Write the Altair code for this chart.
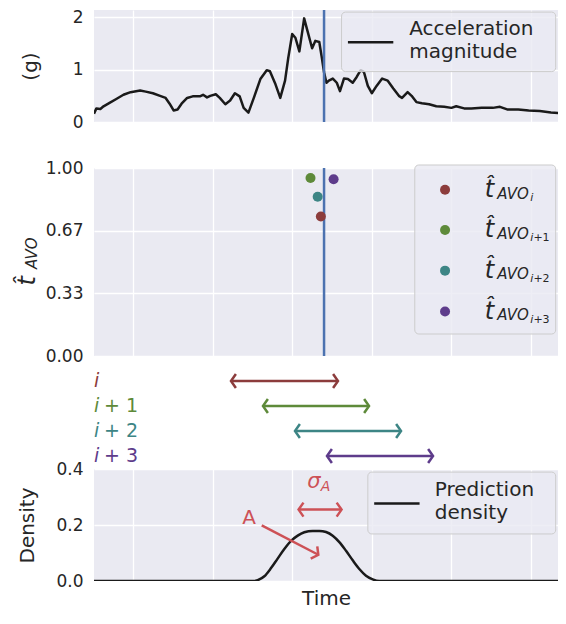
import altair as alt
import pandas as pd

# ---------------- data ----------------
grid_t = [1, 2, 3, 4, 5, 6]

acc_t = [0.51, 0.54, 0.59, 0.63, 0.70, 0.79, 0.88, 0.97, 1.09, 1.16,
         1.25, 1.34, 1.41, 1.46, 1.51, 1.56, 1.61, 1.68, 1.75, 1.84,
         1.88, 1.93, 1.97, 2.04, 2.09, 2.16, 2.22, 2.28, 2.34, 2.39,
         2.45, 2.52, 2.60, 2.68, 2.72, 2.79, 2.85, 2.91, 2.95, 3.00,
         3.04, 3.09, 3.15, 3.19, 3.25, 3.29, 3.34, 3.37, 3.40, 3.43,
         3.46, 3.51, 3.56, 3.60, 3.65, 3.70, 3.76, 3.81, 3.86, 3.90,
         3.95, 4.00, 4.06, 4.13, 4.20, 4.27, 4.34, 4.38, 4.45, 4.50,
         4.56, 4.63, 4.72, 4.81, 4.91, 5.00, 5.06, 5.16, 5.25, 5.38,
         5.52, 5.61, 5.70, 5.84, 5.97, 6.11, 6.25, 6.36, 6.42]
acc_g = [0.16, 0.26, 0.25, 0.30, 0.36, 0.44, 0.52, 0.57, 0.60, 0.58,
         0.55, 0.50, 0.46, 0.35, 0.22, 0.24, 0.35, 0.46, 0.49, 0.49,
         0.52, 0.47, 0.50, 0.53, 0.46, 0.34, 0.41, 0.55, 0.49, 0.27,
         0.18, 0.47, 0.82, 0.99, 0.97, 0.72, 0.46, 0.79, 1.22, 1.68,
         1.61, 1.35, 1.98, 1.75, 1.41, 1.55, 1.53, 1.25, 0.95, 0.75,
         0.79, 0.83, 0.75, 0.59, 0.83, 0.82, 0.75, 0.86, 0.99, 0.96,
         0.69, 0.55, 0.69, 0.83, 0.79, 0.64, 0.50, 0.46, 0.57, 0.50,
         0.38, 0.36, 0.34, 0.30, 0.29, 0.27, 0.30, 0.26, 0.26, 0.27,
         0.27, 0.29, 0.24, 0.24, 0.22, 0.21, 0.18, 0.17, 0.15]

event_t = [3.40]

win_colors = ["#8C3C3C", "#5E8A3A", "#3D8585", "#5E3C8B"]
win_row = [1, 2, 3, 4]
win_plus = ["", "+ 1", "+ 2", "+ 3"]
win_sub_plus = ["", "+1", "+2", "+3"]
avo_t = [3.36, 3.23, 3.32, 3.52]
avo_v = [0.742, 0.947, 0.847, 0.940]
win_start = [2.231, 2.633, 3.035, 3.437]
win_end = [3.575, 3.965, 4.367, 4.769]

dens_t = [0.51, 2.52, 2.566, 2.65, 2.734, 2.817, 2.901, 2.985, 3.069, 3.152, 3.257,
          3.341, 3.425, 3.509, 3.592, 3.676, 3.76, 3.843, 3.927, 4.011, 4.094, 6.42]
dens_v = [0, 0, 0.003, 0.017, 0.046, 0.080, 0.114, 0.143, 0.162, 0.174, 0.179,
          0.179, 0.175, 0.162, 0.139, 0.108, 0.074, 0.043, 0.019, 0.006, 0, 0]

y1_ticks = [0, 1, 2]
y2_ticks = [0, 1 / 3, 2 / 3, 1]
y3_ticks = [0, 0.2, 0.4]

# ---------------- styling / layout ----------------
FONT = "DejaVu Sans"
TXT = "#262626"
BG = "#EAEAF2"
BLUE = "#4C72B0"
BLACK = "#1a1a1a"
RED = "#CD5156"
T_MIN, T_MAX = 0.51, 6.339
W = 464
H1, HS, H2, HA, H3 = 112, 46, 188, 113, 112
LEG_R = 6.31
LEFT = "M0.7,-1L0,0L0.7,1"
RIGHT = "M-0.7,-1L0,0L-0.7,1"

xs = alt.Scale(domain=[T_MIN, T_MAX], nice=False, zero=False)
xax = alt.Axis(values=grid_t, labels=False, ticks=False, domain=False, grid=True, title=None)
xax3 = alt.Axis(values=grid_t, labels=False, ticks=False, domain=False, grid=True,
                title="Time", titlePadding=7)


def X(f, ax):
    return alt.X(f"{f}:Q", scale=xs, axis=ax)


def df(**kw):
    return pd.DataFrame(kw)


# ---------- panel 1 ----------
ys1 = alt.Scale(domain=[0, 2.14], nice=False, zero=False)
yax1 = alt.Axis(values=y1_ticks, format="d", title="(g)", titlePadding=14,
                minExtent=40, maxExtent=40)


def Y1(f):
    return alt.Y(f"{f}:Q", scale=ys1, axis=yax1)


p1 = alt.layer(
    alt.Chart(df(t=acc_t, v=acc_g)).mark_line(color=BLACK, strokeWidth=2.5, clip=True,
                                                strokeJoin="round")
    .encode(x=X("t", xax), y=Y1("v")),
    alt.Chart(df(t=event_t)).mark_rule(color=BLUE, strokeWidth=2.5).encode(x=X("t", xax)),
    alt.Chart(df(t=[3.62], t2=[LEG_R], v=[0.963], v2=[2.10]))
    .mark_rect(fill=BG, fillOpacity=0.8, stroke="#cccccc", strokeWidth=1, cornerRadius=4)
    .encode(x=X("t", xax), x2="t2:Q", y=Y1("v"), y2="v2:Q"),
    alt.Chart(df(t=[3.70], t2=[4.27], v=[1.525])).mark_rule(color=BLACK, strokeWidth=2.5)
    .encode(x=X("t", xax), x2="t2:Q", y=Y1("v")),
    alt.Chart(df(t=[4.47, 4.47], v=[1.78, 1.33], s=["Acceleration", "magnitude"]))
    .mark_text(align="left", baseline="middle", font=FONT, fontSize=20, color=TXT)
    .encode(x=X("t", xax), y=Y1("v"), text="s:N"),
).properties(width=W, height=H1)

spacer = alt.Chart(df(t=[0])).mark_point(opacity=0).encode(
    x=alt.X("t:Q", axis=None), y=alt.Y("t:Q", axis=None)
).properties(width=W, height=HS, view=alt.ViewBackground(fill="white", stroke="white", strokeWidth=0))

# ---------- panel 2 ----------
ys2 = alt.Scale(domain=[0, 1], nice=False)
yax2 = alt.Axis(values=y2_ticks, format=".2f", title=None, minExtent=40, maxExtent=40)


def Y2(f):
    return alt.Y(f"{f}:Q", scale=ys2, axis=yax2)


leg_dot_v = [0.884, 0.670, 0.454, 0.237]
p2 = alt.layer(
    alt.Chart(df(t=event_t)).mark_rule(color=BLUE, strokeWidth=2.5).encode(x=X("t", xax)),
    alt.Chart(df(t=avo_t, v=avo_v, c=win_colors)).mark_circle(size=100, opacity=1)
    .encode(x=X("t", xax), y=Y2("v"), color=alt.Color("c:N", scale=None)),
    alt.Chart(df(t=[4.54], t2=[LEG_R], v=[0.117], v2=[1.016]))
    .mark_rect(fill=BG, fillOpacity=0.8, stroke="#cccccc", strokeWidth=1, cornerRadius=4)
    .encode(x=X("t", xax), x2="t2:Q", y=Y2("v"), y2="v2:Q"),
    alt.Chart(df(t=[4.92] * 4, v=leg_dot_v, c=win_colors)).mark_circle(size=100, opacity=1)
    .encode(x=X("t", xax), y=Y2("v"), color=alt.Color("c:N", scale=None)),
    alt.Chart(df(t=[5.42] * 4, v=[v - 0.038 for v in leg_dot_v], s=["t\u0302"] * 4))
    .mark_text(align="left", baseline="alphabetic", font=FONT, fontSize=24,
               fontStyle="italic", color=TXT)
    .encode(x=X("t", xax), y=Y2("v"), text="s:N"),
    alt.Chart(df(t=[5.576] * 4, v=[v - 0.047 for v in leg_dot_v], s=["AVO"] * 4))
    .mark_text(align="left", baseline="alphabetic", font=FONT, fontSize=15,
               fontStyle="italic", color=TXT)
    .encode(x=X("t", xax), y=Y2("v"), text="s:N"),
    alt.Chart(df(t=[5.99] * 4, v=[v - 0.059 for v in leg_dot_v], s=["i"] * 4))
    .mark_text(align="left", baseline="alphabetic", font=FONT, fontSize=11,
               fontStyle="italic", color=TXT)
    .encode(x=X("t", xax), y=Y2("v"), text="s:N"),
    alt.Chart(df(t=[6.03] * 3, v=[v - 0.059 for v in leg_dot_v[1:]], s=win_sub_plus[1:]))
    .mark_text(align="left", baseline="alphabetic", font=FONT, fontSize=11, color=TXT)
    .encode(x=X("t", xax), y=Y2("v"), text="s:N"),
    # y-axis title  t-hat with subscript AVO
    alt.Chart(df(t=[-0.32], v=[0.40], s=["t\u0302"]))
    .mark_text(align="center", baseline="middle", angle=270, font=FONT, fontSize=24,
               fontStyle="italic", color=TXT)
    .encode(x=X("t", xax), y=Y2("v"), text="s:N"),
    alt.Chart(df(t=[-0.27], v=[0.547], s=["AVO"]))
    .mark_text(align="center", baseline="middle", angle=270, font=FONT, fontSize=15,
               fontStyle="italic", color=TXT)
    .encode(x=X("t", xax), y=Y2("v"), text="s:N"),
).properties(width=W, height=H2)

# ---------- window arrows ----------
ysA = alt.Scale(domain=[0, HA / 25.0], nice=False, reverse=True)


def XA(f):
    return alt.X(f"{f}:Q", scale=xs, axis=None)


def YA(f):
    return alt.Y(f"{f}:Q", scale=ysA, axis=None)


win_df = df(s=win_start, e=win_end, r=win_row, c=win_colors)
pA = alt.layer(
    alt.Chart(win_df).mark_rule(strokeWidth=2.5)
    .encode(x=XA("s"), x2="e:Q", y=YA("r"), color=alt.Color("c:N", scale=None)),
    alt.Chart(win_df).mark_point(shape=LEFT, filled=False, size=196, strokeWidth=2.5, opacity=1)
    .encode(x=XA("s"), y=YA("r"), color=alt.Color("c:N", scale=None)),
    alt.Chart(win_df).mark_point(shape=RIGHT, filled=False, size=196, strokeWidth=2.5, opacity=1)
    .encode(x=XA("e"), y=YA("r"), color=alt.Color("c:N", scale=None)),
    alt.Chart(df(t=[T_MIN] * 4, r=[r + 0.24 for r in win_row], c=win_colors, s=["i"] * 4))
    .mark_text(align="left", baseline="alphabetic", font=FONT, fontSize=19, fontStyle="italic")
    .encode(x=XA("t"), y=YA("r"), text="s:N", color=alt.Color("c:N", scale=None)),
    alt.Chart(df(t=[0.636] * 3, r=[r + 0.24 for r in win_row[1:]], c=win_colors[1:],
                 s=win_plus[1:]))
    .mark_text(align="left", baseline="alphabetic", font=FONT, fontSize=19)
    .encode(x=XA("t"), y=YA("r"), text="s:N", color=alt.Color("c:N", scale=None)),
).properties(width=W, height=HA, view=alt.ViewBackground(fill="white", stroke="white", strokeWidth=0))

# ---------- panel 3 ----------
ys3 = alt.Scale(domain=[0, 0.4], nice=False)
yax3 = alt.Axis(values=y3_ticks, format=".1f", title="Density", titlePadding=17,
                minExtent=40, maxExtent=40)


def Y3(f):
    return alt.Y(f"{f}:Q", scale=ys3, axis=yax3)


p3 = alt.layer(
    alt.Chart(df(t=dens_t, v=dens_v)).mark_line(color=BLACK, strokeWidth=2.5, interpolate="monotone",
                                                  clip=True)
    .encode(x=X("t", xax3), y=Y3("v")),
    alt.Chart(df(t=[3.95], t2=[LEG_R], v=[0.168], v2=[0.389]))
    .mark_rect(fill=BG, fillOpacity=0.8, stroke="#cccccc", strokeWidth=1, cornerRadius=4)
    .encode(x=X("t", xax3), x2="t2:Q", y=Y3("v"), y2="v2:Q"),
    alt.Chart(df(t=[4.03], t2=[4.60], v=[0.277])).mark_rule(color=BLACK, strokeWidth=2.5)
    .encode(x=X("t", xax3), x2="t2:Q", y=Y3("v")),
    alt.Chart(df(t=[4.79, 4.79], v=[0.326, 0.242], s=["Prediction", "density"]))
    .mark_text(align="left", baseline="middle", font=FONT, fontSize=20, color=TXT)
    .encode(x=X("t", xax3), y=Y3("v"), text="s:N"),
    # sigma_A arrow
    alt.Chart(df(t=[3.08], t2=[3.62], v=[0.255])).mark_rule(color=RED, strokeWidth=2.5)
    .encode(x=X("t", xax3), x2="t2:Q", y=Y3("v")),
    alt.Chart(df(t=[3.08], v=[0.255])).mark_point(shape=LEFT, filled=False, size=196,
                                                   strokeWidth=2.5, opacity=1, color=RED)
    .encode(x=X("t", xax3), y=Y3("v")),
    alt.Chart(df(t=[3.62], v=[0.255])).mark_point(shape=RIGHT, filled=False, size=196,
                                                   strokeWidth=2.5, opacity=1, color=RED)
    .encode(x=X("t", xax3), y=Y3("v")),
    alt.Chart(df(t=[3.274], v=[0.354], s=["\u03c3"]))
    .mark_text(align="center", baseline="middle", font=FONT, fontSize=21, fontStyle="italic", color=RED)
    .encode(x=X("t", xax3), y=Y3("v"), text="s:N"),
    alt.Chart(df(t=[3.418], v=[0.337], s=["A"]))
    .mark_text(align="center", baseline="middle", font=FONT, fontSize=14, fontStyle="italic", color=RED)
    .encode(x=X("t", xax3), y=Y3("v"), text="s:N"),
    # A arrow
    alt.Chart(df(t=[2.617], t2=[3.328], v=[0.199], v2=[0.0937])).mark_rule(color=RED, strokeWidth=2.5)
    .encode(x=X("t", xax3), x2="t2:Q", y=Y3("v"), y2="v2:Q"),
    alt.Chart(df(t=[3.328], v=[0.0937])).mark_point(shape=RIGHT, filled=False, size=196, angle=28,
                                                     strokeWidth=2.5, opacity=1, color=RED)
    .encode(x=X("t", xax3), y=Y3("v")),
    alt.Chart(df(t=[2.457], v=[0.226], s=["A"]))
    .mark_text(align="center", baseline="middle", font=FONT, fontSize=20, color=RED)
    .encode(x=X("t", xax3), y=Y3("v"), text="s:N"),
).properties(width=W, height=H3)

chart = alt.vconcat(p1, spacer, p2, pA, p3, spacing=0, bounds="flush").properties(
    padding={"left": 7, "top": 0, "right": 0, "bottom": 0}
).configure(font=FONT).configure_view(fill=BG, stroke=None).configure_axis(
    gridColor="white", gridWidth=1.3, labelFont=FONT, labelFontSize=17, labelColor=TXT,
    titleFont=FONT, titleFontSize=20, titleFontWeight="normal", titleColor=TXT,
    labelPadding=11, tickSize=0, labelFlush=False, domain=False, ticks=False
)

chart.save("out.html", embed_options={"renderer": "svg", "actions": False})
